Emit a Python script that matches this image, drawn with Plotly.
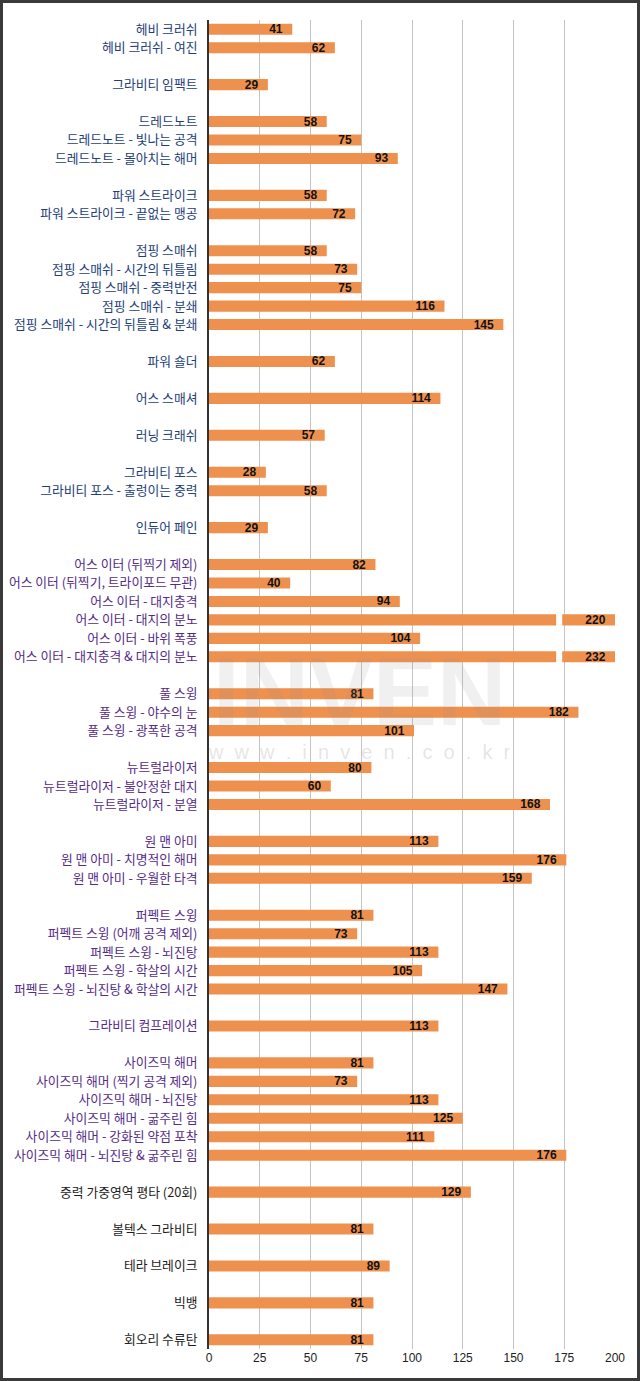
import plotly.graph_objects as go

# ---- data (None / "" rows are the blank spacer rows between skill groups) ----
labels = [
    "헤비 크러쉬", "헤비 크러쉬 - 여진", "",
    "그라비티 임팩트", "",
    "드레드노트", "드레드노트 - 빛나는 공격", "드레드노트 - 몰아치는 해머", "",
    "파워 스트라이크", "파워 스트라이크 - 끝없는 맹공", "",
    "점핑 스매쉬", "점핑 스매쉬 - 시간의 뒤틀림", "점핑 스매쉬 - 중력반전", "점핑 스매쉬 - 분쇄",
    "점핑 스매쉬 - 시간의 뒤틀림 & 분쇄", "",
    "파워 숄더", "",
    "어스 스매셔", "",
    "러닝 크래쉬", "",
    "그라비티 포스", "그라비티 포스 - 출렁이는 중력", "",
    "인듀어 페인", "",
    "어스 이터 (뒤찍기 제외)", "어스 이터 (뒤찍기, 트라이포드 무관)", "어스 이터 - 대지충격",
    "어스 이터 - 대지의 분노", "어스 이터 - 바위 폭풍", "어스 이터 - 대지충격 & 대지의 분노", "",
    "풀 스윙", "풀 스윙 - 야수의 눈", "풀 스윙 - 광폭한 공격", "",
    "뉴트럴라이저", "뉴트럴라이저 - 불안정한 대지", "뉴트럴라이저 - 분열", "",
    "원 맨 아미", "원 맨 아미 - 치명적인 해머", "원 맨 아미 - 우월한 타격", "",
    "퍼펙트 스윙", "퍼펙트 스윙 (어깨 공격 제외)", "퍼펙트 스윙 - 뇌진탕", "퍼펙트 스윙 - 학살의 시간",
    "퍼펙트 스윙 - 뇌진탕 & 학살의 시간", "",
    "그라비티 컴프레이션", "",
    "사이즈믹 해머", "사이즈믹 해머 (찍기 공격 제외)", "사이즈믹 해머 - 뇌진탕", "사이즈믹 해머 - 굶주린 힘",
    "사이즈믹 해머 - 강화된 약점 포착", "사이즈믹 해머 - 뇌진탕 & 굶주린 힘", "",
    "중력 가중영역 평타 (20회)", "",
    "볼텍스 그라비티", "",
    "테라 브레이크", "",
    "빅뱅", "",
    "회오리 수류탄",
]
values = [
    41, 62, None,
    29, None,
    58, 75, 93, None,
    58, 72, None,
    58, 73, 75, 116, 145, None,
    62, None,
    114, None,
    57, None,
    28, 58, None,
    29, None,
    82, 40, 94, 220, 104, 232, None,
    81, 182, 101, None,
    80, 60, 168, None,
    113, 176, 159, None,
    81, 73, 113, 105, 147, None,
    113, None,
    81, 73, 113, 125, 111, 176, None,
    129, None,
    81, None,
    89, None,
    81, None,
    81,
]
# label colour group per row: 0 = blue, 1 = purple, 2 = black
label_group = [0] * 29 + [1] * 34 + [2] * 9

x_ticks = [0, 25, 50, 75, 100, 125, 150, 175, 200]

# ---- styling ----
AX_MAX = 200
BREAK_LO, BREAK_HI = 171, 174
BAR = "#EE914F"
LABEL_COLORS = ["#233E78", "#532B88", "#1c1c1c"]
PAD = "\u00a0\u00a0"

rows = list(range(len(labels)))

nx, ny, nt = [], [], []
bx1, by1, bx2, bb2, by2, bt2 = [], [], [], [], [], []
for i, v in zip(rows, values):
    if v is None:
        continue
    if v <= AX_MAX:
        nx.append(v); ny.append(i); nt.append(f"<b>{v}</b>{PAD}")
    else:
        bx1.append(BREAK_LO); by1.append(i)
        bx2.append(AX_MAX - BREAK_HI); bb2.append(BREAK_HI); by2.append(i); bt2.append(f"<b>{v}</b>{PAD}")

fig = go.Figure()
common = dict(orientation="h", marker=dict(color=BAR, line=dict(width=0)), width=0.6,
              hoverinfo="skip", showlegend=False)
txtfont = dict(family="Liberation Sans Narrow, Arial Narrow, Liberation Sans", size=12, color="#111111")
fig.add_trace(go.Bar(x=nx, y=ny, text=nt, textposition="inside", insidetextanchor="end",
                     textfont=txtfont, textangle=0, constraintext="none", **common))
fig.add_trace(go.Bar(x=bx1, y=by1, **common))
fig.add_trace(go.Bar(x=bx2, y=by2, base=bb2, text=bt2, textposition="inside", insidetextanchor="end",
                     textfont=txtfont, textangle=0, constraintext="none", **common))

ticktext = [f"<span style='color:{LABEL_COLORS[g]}'>{t}</span>" if t else "" for t, g in zip(labels, label_group)]

fig.update_layout(
    width=640, height=1381,
    margin=dict(l=209, r=25, t=20, b=32, autoexpand=False),
    paper_bgcolor="white", plot_bgcolor="white",
    barmode="overlay",
    uniformtext=dict(minsize=8, mode="show"),
    font=dict(family="Noto Sans CJK KR", size=12, color="#222"),
    xaxis=dict(range=[0, AX_MAX], tickvals=x_ticks, ticktext=[str(t) for t in x_ticks],
               showgrid=True, gridcolor="#C4C4C4", gridwidth=1, zeroline=False,
               showline=False, ticks="", automargin=False,
               tickfont=dict(family="Liberation Sans Narrow, Liberation Sans", size=12, color="#222"),
               fixedrange=True),
    yaxis=dict(range=[len(labels) - 0.5, -0.5], tickvals=rows, ticktext=ticktext,
               showgrid=False, zeroline=False, showline=True, linecolor="#333333", linewidth=2,
               ticks="", ticklabelstandoff=7, automargin=False,
               tickfont=dict(family="Noto Sans CJK KR", size=12.8),
               fixedrange=True),
)

# watermark
fig.add_annotation(text="<b>INVEN</b>", xref="paper", yref="paper", x=0.37, y=0.495,
                   showarrow=False, font=dict(family="Liberation Sans", size=96, color="rgba(150,150,150,0.14)"))
fig.add_annotation(text="w  w  w  .  i  n  v  e  n  .  c  o  .  k  r", xref="paper", yref="paper", x=0.37, y=0.4495,
                   showarrow=False, font=dict(family="Liberation Sans", size=20, color="rgba(150,150,150,0.25)"))

# outer frame
W, H = 640, 1381
pw, ph = W - 209 - 25, H - 20 - 32
fig.add_shape(type="rect", xref="paper", yref="paper",
              x0=(-209 + 1.5) / pw, x1=1 + (25 - 1.5) / pw,
              y0=(-32 + 1.5) / ph, y1=1 + (20 - 1.5) / ph,
              line=dict(color="#3a3a3a", width=3), layer="above")

fig.write_html("out.html", config={"displayModeBar": False})
with open("out.html", encoding="utf-8") as f:
    html = f.read()
html = html.replace("<head>", "<head><style>html,body{margin:0;padding:0;overflow:hidden;}</style>", 1)
with open("out.html", "w", encoding="utf-8") as f:
    f.write(html)
